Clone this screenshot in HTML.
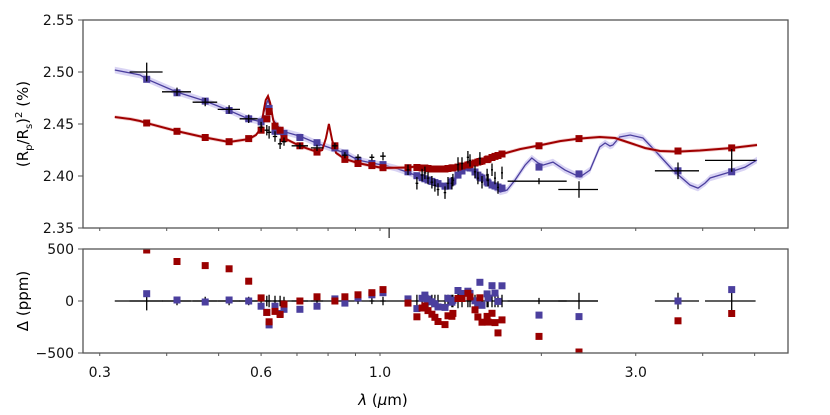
<!DOCTYPE html>
<html><head><meta charset="utf-8"><style>
html,body{margin:0;padding:0;background:#fff;}
svg{display:block;font-family:"DejaVu Sans","Liberation Sans",sans-serif;}
</style></head><body>
<svg id="chart" width="830" height="415" viewBox="0 0 830 415" xmlns="http://www.w3.org/2000/svg">
<defs>
<clipPath id="clipTop"><rect x="83" y="20" width="705" height="208"/></clipPath>
<clipPath id="clipBot"><rect x="83" y="249" width="705" height="104"/></clipPath>
</defs>
<g id="topPlot"></g>
<g id="botPlot"></g>
<g id="axes"></g>
<text transform="translate(28,124) rotate(-90)" text-anchor="middle" font-size="15">(R<tspan font-size="10" dy="4">p</tspan><tspan dy="-4">/R</tspan><tspan font-size="10" dy="4">s</tspan><tspan dy="-4">)</tspan><tspan font-size="10" dy="-6">2</tspan><tspan dy="6"> (%)</tspan></text>
<text transform="translate(28,301) rotate(-90)" text-anchor="middle" font-size="15">Δ (ppm)</text>
<text x="383" y="405" text-anchor="middle" font-size="15"><tspan font-style="italic">λ</tspan> (<tspan font-style="italic">μ</tspan>m)</text>
</svg>
<script>
// ---- data ----
const wavelength = [0.367,0.418,0.472,0.523,0.569,0.600,0.615,0.621,0.637,0.651,0.662,0.709,0.763,0.824,0.860,0.910,0.966,1.013,1.128,
 1.172,1.198,1.213,1.229,1.250,1.266,1.283,1.322,1.339,1.362,1.368,1.398,1.422,1.459,1.472,1.504,1.523,1.536,1.550,1.584,1.591,1.618,1.639,1.660,1.689,
 1.98,2.351,3.597,4.53];
const binHalfWidth = [0.026,0.026,0.025,0.025,0.022,0.006,0.006,0.006,0.006,0.006,0.006,0.025,0.02,0.01,0.01,0.01,0.01,0.012,0.007,
 0.007,0.007,0.007,0.007,0.007,0.007,0.007,0.007,0.007,0.007,0.007,0.007,0.007,0.007,0.007,0.007,0.007,0.007,0.007,0.007,0.007,0.007,0.007,0.007,0.007,
 0.25,0.2,0.34,0.49];
const observedDepth = [2.500,2.481,2.471,2.464,2.455,2.447,2.444,2.442,2.438,2.431,2.433,2.429,2.427,2.429,2.420,2.418,2.418,2.419,2.406,
 2.393,2.401,2.403,2.398,2.394,2.391,2.387,2.384,2.393,2.393,2.396,2.411,2.412,2.418,2.415,2.404,2.398,2.417,2.394,2.401,2.396,2.406,2.398,2.389,2.403,
 2.395,2.387,2.405,2.415];
const depthError = [0.009,0.004,0.004,0.004,0.004,0.005,0.005,0.006,0.005,0.005,0.004,0.003,0.003,0.003,0.003,0.003,0.003,0.004,0.005,
 0.006,0.006,0.006,0.006,0.006,0.006,0.006,0.006,0.006,0.006,0.006,0.007,0.006,0.006,0.006,0.006,0.006,0.006,0.006,0.006,0.006,0.006,0.006,0.006,0.006,
 0.003,0.008,0.008,0.011];
const blueBinned = [2.493,2.480,2.472,2.463,2.455,2.452,2.455,2.465,2.443,2.443,2.441,2.437,2.432,2.427,2.422,2.415,2.412,2.411,2.404,
 2.4003,2.3984,2.3973,2.3962,2.3948,2.3937,2.3927,2.3902,2.3904,2.3942,2.3952,2.4009,2.4048,2.4086,2.4077,2.4038,2.4009,2.3990,2.3981,2.3942,2.3932,2.3913,2.3904,2.3894,2.3884,
 2.4086,2.402,2.405,2.404];
const redBinned = [2.451,2.443,2.437,2.433,2.436,2.444,2.455,2.462,2.448,2.444,2.436,2.429,2.423,2.429,2.416,2.412,2.410,2.408,2.408,
 2.4082,2.4077,2.4077,2.4072,2.4067,2.4067,2.4067,2.4067,2.4072,2.4077,2.4079,2.4086,2.4096,2.4106,2.4111,2.4125,2.4134,2.4139,2.4144,2.4158,2.4163,2.4178,2.4188,2.4197,2.4212,
 2.429,2.436,2.424,2.427];
const blueModelWl = [0.320,0.342,0.3567,0.367,0.418,0.472,0.523,0.569,0.592,0.602,0.612,0.618,0.624,0.632,0.656,0.709,0.760,0.860,0.910,0.966,1.013,1.067,1.123,1.188,1.334,1.398,1.453,1.504,1.604,1.675,1.726,1.786,1.865,1.920,1.972,2.014,2.103,2.214,2.36,2.465,2.57,2.630,2.686,2.72,2.80,2.93,3.095,3.29,3.52,3.788,3.92,4.04,4.13,4.50,4.80,5.05];
const blueModelDepth = [2.5019,2.4990,2.4971,2.4932,2.4807,2.4721,2.4630,2.4548,2.4529,2.4557,2.4673,2.4730,2.4673,2.4538,2.4432,2.4384,2.4317,2.4221,2.4154,2.4125,2.4105,2.4077,2.4038,2.3990,2.3894,2.4009,2.4086,2.4038,2.3923,2.3846,2.3865,2.3961,2.4105,2.4173,2.4125,2.4105,2.4134,2.4057,2.3990,2.4057,2.4279,2.4317,2.4288,2.4298,2.4375,2.4394,2.4365,2.4221,2.4057,2.3913,2.3884,2.3932,2.3981,2.4038,2.4086,2.4154];
const redModelWl = [0.320,0.342,0.3567,0.367,0.418,0.472,0.523,0.569,0.587,0.600,0.607,0.612,0.618,0.624,0.632,0.642,0.662,0.709,0.760,0.780,0.793,0.803,0.814,0.828,0.860,0.910,0.966,1.013,1.128,1.188,1.322,1.398,1.536,1.689,1.825,1.98,2.167,2.351,2.57,2.745,2.93,3.122,3.33,3.597,3.95,4.53,5.05];
const redModelDepth = [2.4567,2.4548,2.4529,2.4509,2.4432,2.4370,2.4327,2.4355,2.4394,2.4461,2.4634,2.4730,2.4769,2.4702,2.4538,2.4442,2.4365,2.4288,2.4235,2.4250,2.4365,2.4500,2.4346,2.4221,2.4163,2.4125,2.4096,2.4077,2.4082,2.4096,2.4067,2.4086,2.4144,2.4211,2.4259,2.4293,2.4336,2.4360,2.4375,2.4365,2.4317,2.4269,2.4240,2.4235,2.4245,2.4269,2.4298];
const zeroLineRange = [0.32,2.55];
const topTicks = [2.35,2.40,2.45,2.50,2.55];
const topTickLabels = ["2.35","2.40","2.45","2.50","2.55"];
const resTicks = [-500,0,500];
const resTickLabels = ["−500","0","500"];
const xMajorTicks = [0.3,0.6,1.0,3.0];
const xMajorLabels = ["0.3","0.6","1.0","3.0"];
const xMinorTicks = [0.3,0.4,0.5,0.6,0.7,0.8,0.9,1.0,2.0,3.0,4.0,5.0];

// ---- scales ----
const X = l => 380 + 536*Math.log10(l);
const YT = v => 20 + (2.55 - v)*1040;
const YB = r => 301 - r*0.104;
const NS = "http://www.w3.org/2000/svg";
function mk(tag, attrs, parent){const e=document.createElementNS(NS,tag);for(const k in attrs)e.setAttribute(k,attrs[k]);parent.appendChild(e);return e;}

const topG = document.getElementById('topPlot');
const botG = document.getElementById('botPlot');
const axesG = document.getElementById('axes');
const tg = mk('g',{'clip-path':'url(#clipTop)'},topG);
const bg = mk('g',{'clip-path':'url(#clipBot)'},botG);

function linePath(wl, d, off){return wl.map((l,i)=>(i?'L':'M')+X(l).toFixed(1)+','+YT(d[i]+off).toFixed(1)).join('');}
function bandPath(wl,d,w){let s=wl.map((l,i)=>(i?'L':'M')+X(l).toFixed(1)+','+YT(d[i]+w).toFixed(1)).join('');
 for(let i=wl.length-1;i>=0;i--) s+='L'+X(wl[i]).toFixed(1)+','+YT(d[i]-w).toFixed(1);return s+'Z';}

let el;
el = mk('path',{d:bandPath(blueModelWl,blueModelDepth,0.0032),fill:'#d2ccf2',opacity:'0.85'},tg);


el = mk('path',{d:linePath(blueModelWl,blueModelDepth,0),fill:'none',stroke:'#4b3f9e','stroke-width':'1.3'},tg);


el = mk('path',{d:bandPath(redModelWl,redModelDepth,0.0018),fill:'#e8a8a8',opacity:'0.6'},tg);


el = mk('path',{d:linePath(redModelWl,redModelDepth,0),fill:'none',stroke:'#a00000','stroke-width':'2'},tg);



function square(g,x,y,col,name){const s=mk('rect',{x:(x-3.5).toFixed(1),y:(y-3.5).toFixed(1),width:7,height:7,fill:col},g);
 
 }
wavelength.forEach((l,i)=>{square(tg,X(l),YT(blueBinned[i]),'#4b3f9e','blue-binned-point');});
wavelength.forEach((l,i)=>{square(tg,X(l),YT(redBinned[i]),'#9a0000','red-binned-point');});
function cross(g,l,yc,ylo,yhi,dl,name){
 const c=mk('path',{d:'M'+X(l-dl).toFixed(1)+','+yc.toFixed(1)+'L'+X(l+dl).toFixed(1)+','+yc.toFixed(1)+'M'+X(l).toFixed(1)+','+ylo.toFixed(1)+'L'+X(l).toFixed(1)+','+yhi.toFixed(1),stroke:'#000','stroke-width':'1.3',fill:'none'},g);
 
 }
wavelength.forEach((l,i)=>{cross(tg,l,YT(observedDepth[i]),YT(observedDepth[i]+depthError[i]),YT(observedDepth[i]-depthError[i]),binHalfWidth[i],'observed-point');});

// residual panel
el = mk('line',{x1:X(zeroLineRange[0]),x2:X(zeroLineRange[1]),y1:YB(0),y2:YB(0),stroke:'#000','stroke-width':'1.3'},bg);


wavelength.forEach((l,i)=>{const ep=depthError[i]*1e4;cross(bg,l,YB(0),YB(ep),YB(-ep),binHalfWidth[i],'residual-errorbar');});
wavelength.forEach((l,i)=>{square(bg,X(l),YB((observedDepth[i]-blueBinned[i])*1e4),'#4b3f9e','blue-residual-point');});
wavelength.forEach((l,i)=>{square(bg,X(l),YB((observedDepth[i]-redBinned[i])*1e4),'#9a0000','red-residual-point');});

// frames
el=mk('rect',{x:83,y:20,width:705,height:208,fill:'none',stroke:'#555','stroke-width':'1.3'},axesG);


el=mk('rect',{x:83,y:249,width:705,height:104,fill:'none',stroke:'#555','stroke-width':'1.3'},axesG);


topTicks.forEach((v,i)=>{
 mk('line',{x1:78,x2:83,y1:YT(v),y2:YT(v),stroke:'#555','stroke-width':'1'},axesG);
 const t=mk('text',{x:74,y:YT(v)+5,'text-anchor':'end','font-size':'14',fill:'#111'},axesG);t.textContent=topTickLabels[i];
 
 });
resTicks.forEach((v,i)=>{
 mk('line',{x1:78,x2:83,y1:YB(v),y2:YB(v),stroke:'#555','stroke-width':'1'},axesG);
 const t=mk('text',{x:74,y:YB(v)+5,'text-anchor':'end','font-size':'14',fill:'#111'},axesG);t.textContent=resTickLabels[i];
 
 });
xMinorTicks.forEach(l=>{
 mk('line',{x1:X(l),x2:X(l),y1:353,y2:356,stroke:'#555','stroke-width':'1'},axesG);
 mk('line',{x1:X(l),x2:X(l),y1:228,y2:231,stroke:'#555','stroke-width':'1'},axesG);});
mk('line',{x1:X(1.04),x2:X(1.04),y1:228,y2:238,stroke:'#222','stroke-width':'1.2'},axesG);
xMajorTicks.forEach((l,i)=>{
 const t=mk('text',{x:X(l),y:377,'text-anchor':'middle','font-size':'14',fill:'#111'},axesG);t.textContent=xMajorLabels[i];
 
 });
</script>
</body></html>
